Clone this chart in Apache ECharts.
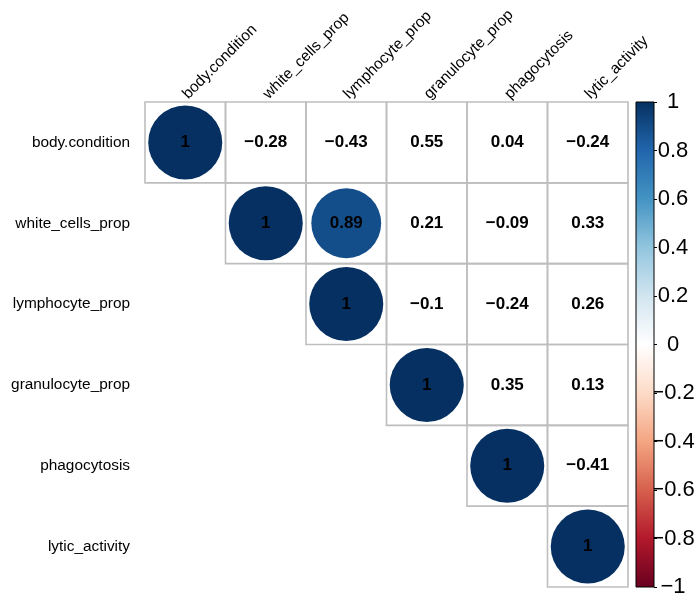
<!DOCTYPE html>
<html>
<head>
<meta charset="utf-8">
<script src="https://cdn.jsdelivr.net/npm/echarts@6/dist/echarts.min.js"></script>
<style>
  html, body { margin: 0; padding: 0; background: #fff; }
  #chart { width: 698px; height: 597px; }
</style>
</head>
<body>
<div id="chart"></div>
<script>
// Variables of the correlation matrix
const variables = ['body.condition', 'white_cells_prop', 'lymphocyte_prop', 'granulocyte_prop', 'phagocytosis', 'lytic_activity'];

// Correlation coefficients, one row per variable
const corrBodyCondition  = [1, -0.28, -0.43, 0.55, 0.04, -0.24];
const corrWhiteCells     = [-0.28, 1, 0.89, 0.21, -0.09, 0.33];
const corrLymphocyte     = [-0.43, 0.89, 1, -0.1, -0.24, 0.26];
const corrGranulocyte    = [0.55, 0.21, -0.1, 1, 0.35, 0.13];
const corrPhagocytosis   = [0.04, -0.09, -0.24, 0.35, 1, -0.41];
const corrLyticActivity  = [-0.24, 0.33, 0.26, 0.13, -0.41, 1];
const corrMatrix = [corrBodyCondition, corrWhiteCells, corrLymphocyte, corrGranulocyte, corrPhagocytosis, corrLyticActivity];

// Significant pairs (others are left without a circle)
const significantPairs = [[0, 0], [1, 1], [2, 2], [3, 3], [4, 4], [5, 5], [1, 2]];

// Colour bar ticks
const legendTicks = [-1, -0.8, -0.6, -0.4, -0.2, 0, 0.2, 0.4, 0.6, 0.8, 1];

// RdBu diverging palette, from -1 to 1
const rdBu = ['#67001F', '#B2182B', '#D6604D', '#F4A582', '#FDDBC7', '#FFFFFF',
              '#D1E5F0', '#92C5DE', '#4393C3', '#2166AC', '#053061'];

const isSig = (i, j) => significantPairs.some(p => p[0] === i && p[1] === j);

// Upper triangle cells: [column, row, r, significant]
const cells = [];
for (let i = 0; i < variables.length; i++) {
  for (let j = i; j < variables.length; j++) {
    cells.push([j, i, corrMatrix[i][j], isSig(i, j) ? 1 : 0]);
  }
}

const fmtValue = v => String(+(+v).toFixed(2)).replace('-', '\u2212');
const fmtTick = v => String(+(+v).toFixed(1)).replace('-', '\u2212');

const chart = echarts.init(document.getElementById('chart'), null, { renderer: 'canvas' });

const FONT = '"Liberation Sans", Arial, Helvetica, sans-serif';

chart.setOption({
  backgroundColor: '#ffffff',
  animation: false,
  textStyle: { fontFamily: FONT },
  grid: [
    { left: 145, top: 102, width: 483, height: 485, outerBoundsMode: 'none' },
    { left: 636, top: 102, width: 18, height: 485, outerBoundsMode: 'none' }
  ],
  xAxis: [
    {
      gridIndex: 0, type: 'category', data: variables, position: 'top',
      axisLine: { show: false }, axisTick: { show: false }, splitLine: { show: false },
      axisLabel: {
        interval: 0, rotate: -45, fontSize: 15.4, color: '#000', fontFamily: FONT,
        margin: 5.5, align: 'left', verticalAlign: 'middle'
      }
    },
    {
      gridIndex: 1, type: 'category', data: ['scale'], show: false
    }
  ],
  yAxis: [
    {
      gridIndex: 0, type: 'category', data: variables, inverse: true,
      axisLine: { show: false }, axisTick: { show: false }, splitLine: { show: false },
      axisLabel: { interval: 0, fontSize: 15.4, color: '#000', fontFamily: FONT, margin: 15 }
    },
    {
      gridIndex: 1, type: 'value', min: legendTicks[0], max: legendTicks[legendTicks.length - 1],
      interval: 0.2, position: 'right',
      axisLine: { show: false },
      axisTick: { show: true, length: 3, lineStyle: { color: '#000', width: 1 } },
      splitLine: { show: false },
      axisLabel: {
        fontSize: 22, color: '#000', fontFamily: FONT, margin: 19, align: 'center',
        formatter: fmtTick
      }
    }
  ],
  visualMap: {
    show: false, type: 'continuous', min: -1, max: 1, dimension: 2, seriesIndex: 0,
    inRange: { color: rdBu }
  },
  series: [
    {
      type: 'custom',
      xAxisIndex: 0, yAxisIndex: 0,
      data: cells,
      renderItem: function (params, api) {
        const col = api.value(0), row = api.value(1), r = api.value(2), sig = api.value(3);
        const c = api.coord([col, row]);
        const s = api.size([1, 1]);
        const children = [{
          type: 'rect',
          shape: { x: c[0] - s[0] / 2, y: c[1] - s[1] / 2, width: s[0], height: s[1] },
          style: { fill: null, stroke: '#bebebe', lineWidth: 1.6 }
        }];
        if (sig) {
          children.push({
            type: 'circle',
            shape: { cx: c[0], cy: c[1], r: 0.46 * Math.min(s[0], s[1]) * Math.sqrt(Math.abs(r)) },
            style: { fill: api.visual('color') }
          });
        }
        children.push({
          type: 'text',
          x: c[0], y: c[1],
          style: {
            text: fmtValue(r), align: 'center', verticalAlign: 'middle',
            font: 'bold 17px ' + FONT, fill: '#000'
          }
        });
        return { type: 'group', children: children };
      }
    },
    {
      type: 'custom',
      xAxisIndex: 1, yAxisIndex: 1,
      data: [[0, legendTicks[legendTicks.length - 1], legendTicks[0]]],
      renderItem: function (params, api) {
        const top = api.coord([0, api.value(1)]);
        const bottom = api.coord([0, api.value(2)]);
        const w = api.size([1, 0])[0];
        const stops = rdBu.slice().reverse().map((col, k) => ({ offset: k / (rdBu.length - 1), color: col }));
        return {
          type: 'rect',
          shape: { x: top[0] - w / 2, y: top[1], width: w, height: bottom[1] - top[1] },
          style: {
            fill: new echarts.graphic.LinearGradient(0, 0, 0, 1, stops),
            stroke: '#000', lineWidth: 1
          }
        };
      }
    }
  ]
});
</script>
</body>
</html>
